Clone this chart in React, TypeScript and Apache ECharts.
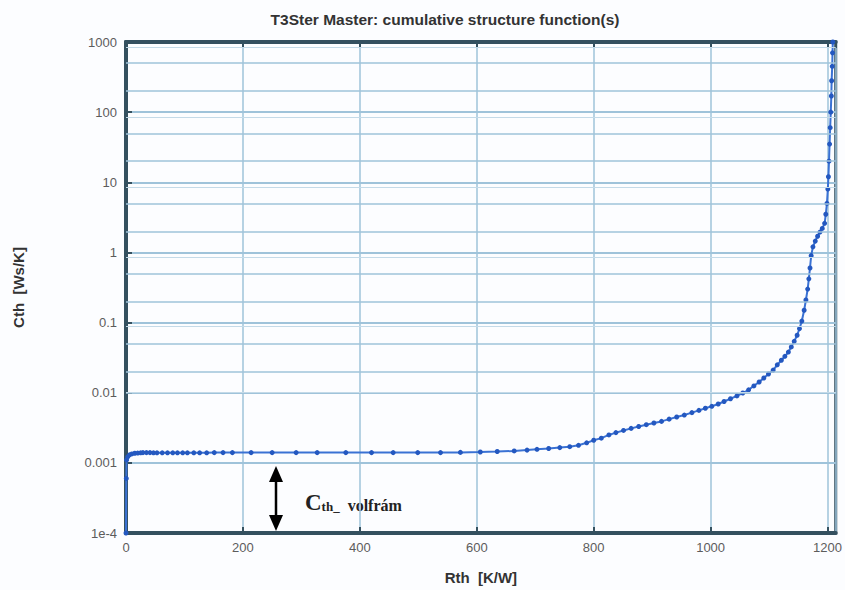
import React, { useEffect, useRef } from "react";
import * as echarts from "echarts";

const titleText = "T3Ster Master: cumulative structure function(s)";
const xAxisName = "Rth  [K/W]";
const yAxisName = "Cth  [Ws/K]";

const rthValues = [
  0, 0.5, 1, 3, 6, 10, 15, 20, 25, 29, 35, 41, 47, 53, 62, 71, 80, 88, 97, 105,
  116, 126, 138, 151, 166, 182, 214, 250, 291, 327, 376, 420, 457, 499, 538,
  572, 606, 635, 664, 686, 703, 723, 742, 759, 774, 788, 800, 813, 826, 838,
  851, 864, 877, 890, 903, 916, 929, 942, 955, 968, 980, 991, 1002, 1013, 1023,
  1034, 1045, 1055, 1065, 1074, 1083, 1091, 1099, 1107, 1114, 1121, 1127, 1133,
  1138, 1143, 1148, 1152, 1156, 1160, 1163, 1166, 1168, 1170, 1172, 1175, 1179,
  1183, 1187, 1191, 1195, 1197, 1199, 1200.5, 1201.5, 1202.5, 1203.5, 1204.5,
  1205.5, 1206.5, 1207, 1208, 1208.5, 1209,
];
const cthValues = [
  0.0001, 0.0006, 0.0011, 0.00122, 0.0013, 0.00134, 0.00137, 0.00138, 0.00139,
  0.0014, 0.0014, 0.0014, 0.00139, 0.00139, 0.00139, 0.00139, 0.00139, 0.00139,
  0.00139, 0.00139, 0.00139, 0.00139, 0.00139, 0.0014, 0.0014, 0.0014, 0.0014,
  0.0014, 0.0014, 0.0014, 0.0014, 0.0014, 0.0014, 0.0014, 0.0014, 0.00141,
  0.00143, 0.00145, 0.00148, 0.00152, 0.00156, 0.0016, 0.00165, 0.0017,
  0.00178, 0.00193, 0.0021, 0.00225, 0.0025, 0.0027, 0.0029, 0.0031, 0.0033,
  0.0035, 0.0037, 0.0039, 0.0042, 0.0045, 0.0048, 0.0052, 0.0056, 0.006,
  0.0064, 0.0069, 0.0075, 0.0082, 0.009, 0.0099, 0.011, 0.0125, 0.0142,
  0.0162, 0.0185, 0.021, 0.025, 0.029, 0.033, 0.038, 0.045, 0.054, 0.066,
  0.082, 0.105, 0.15, 0.21, 0.3, 0.42, 0.6, 0.9, 1.2, 1.45, 1.7, 1.95, 2.2,
  2.6, 3.5, 5, 8, 12, 20, 35, 60, 100, 170, 280, 450, 700, 1000,
];

const yTickLabels = ["1e-4", "0.001", "0.01", "0.1", "1", "10", "100", "1000"];
const yMinorLines = [
  0.0002, 0.0005, 0.002, 0.005, 0.02, 0.05, 0.2, 0.5, 2, 5, 20, 50, 200, 500,
];
const yShadowLines = [0.00085, 0.0085, 0.085, 0.85, 8.5, 85, 850];

const AXIS = "#34505f";
const GRID = "#9fc3da";
const BG = "#fcfdff";

export default function App() {
  const ref = useRef<HTMLDivElement>(null);
  useEffect(() => {
    document.body.style.margin = "0";
    const chart = echarts.init(ref.current!, null, { renderer: "svg" });
    const data = rthValues.map((x, i) => [x, cthValues[i]]);
    const tickLabel = {
      fontFamily: "Liberation Sans",
      fontSize: 13,
      color: "#5c5c5c",
    };
    chart.setOption({
      animation: false,
      backgroundColor: BG,
      grid: {
        left: 126,
        right: 4,
        top: 42,
        bottom: 57,
        show: true,
        borderColor: AXIS,
        borderWidth: 3,
        backgroundColor: "transparent",
      },
      xAxis: [
        {
          type: "value",
          min: 0,
          max: 1214,
          interval: 200,
          name: xAxisName,
          nameLocation: "middle",
          nameGap: 37,
          nameTextStyle: {
            fontFamily: "Liberation Sans",
            fontWeight: "bold",
            fontSize: 15,
            color: "#333",
          },
          axisLine: { show: true, lineStyle: { color: AXIS, width: 4 } },
          axisTick: { show: true, inside: true, length: 6, lineStyle: { color: AXIS, width: 2 } },
          axisLabel: {
            ...tickLabel,
            showMaxLabel: false,
            margin: 8,
            formatter: (v: number) => String(v),
          },
          splitLine: { show: true, lineStyle: { color: GRID, width: 1.5 } },
        },
        {
          type: "value",
          position: "top",
          min: 0,
          max: 1214,
          interval: 200,
          axisLine: { show: true, lineStyle: { color: AXIS, width: 4 } },
          axisTick: { show: true, inside: true, length: 6, lineStyle: { color: AXIS, width: 2 } },
          axisLabel: { show: false },
          splitLine: { show: false },
        },
      ],
      yAxis: {
        type: "log",
        logBase: 10,
        min: 0.0001,
        max: 1000,
        name: yAxisName,
        nameLocation: "middle",
        nameRotate: 90,
        nameGap: 100,
        nameTextStyle: {
          fontFamily: "Liberation Sans",
          fontWeight: "bold",
          fontSize: 15,
          color: "#333",
        },
        axisLine: { show: true, lineStyle: { color: AXIS, width: 4 } },
        axisTick: { show: true, inside: true, length: 6, lineStyle: { color: AXIS, width: 2 } },
        axisLabel: {
          ...tickLabel,
          margin: 9,
          formatter: (v: number) => {
            const idx = Math.round(Math.log10(v)) + 4;
            return yTickLabels[idx] ?? "";
          },
        },
        splitLine: { show: true, lineStyle: { color: GRID, width: 2 } },
      },
      series: [
        {
          type: "line",
          data: [],
          z: 1,
          silent: true,
          markLine: {
            silent: true,
            symbol: "none",
            label: { show: false },
            lineStyle: { type: "solid", color: GRID, width: 1.5 },
            data: yMinorLines.map((v) => ({ yAxis: v })),
          },
        },
        {
          type: "line",
          data: [],
          z: 1,
          silent: true,
          markLine: {
            silent: true,
            symbol: "none",
            label: { show: false },
            lineStyle: { type: "solid", color: "#c4dae8", width: 1.2 },
            data: yShadowLines.map((v) => ({ yAxis: v })),
          },
        },
        {
          type: "line",
          data,
          z: 3,
          symbol: "circle",
          symbolSize: 5,
          showSymbol: true,
          showAllSymbol: true,
          clip: true,
          lineStyle: { color: "#3a72d4", width: 2 },
          itemStyle: { color: "#2458c0" },
        },
      ],
      graphic: [
        {
          type: "text",
          x: 445,
          y: 19,
          style: {
            text: titleText,
            align: "center",
            verticalAlign: "middle",
            fontFamily: "Liberation Sans",
            fontWeight: "bold",
            fontSize: 15.5,
            fill: "#333",
          },
        },
        {
          type: "line",
          shape: { x1: 276, y1: 478, x2: 276, y2: 518 },
          style: { stroke: "#000", lineWidth: 2.5 },
        },
        {
          type: "polygon",
          shape: { points: [[276, 466], [269, 482], [283, 482]] },
          style: { fill: "#000" },
        },
        {
          type: "polygon",
          shape: { points: [[276, 531], [269, 515], [283, 515]] },
          style: { fill: "#000" },
        },
        {
          type: "text",
          x: 303,
          y: 502,
          style: {
            text: "{c|C}{s|th_}{v|  volfrám}",
            verticalAlign: "middle",
            backgroundColor: BG,
            padding: [0, 4, 0, 2],
            rich: {
              c: { fontFamily: "Liberation Serif", fontSize: 23, fill: "#222", fontWeight: "bold" },
              s: {
                fontFamily: "Liberation Serif",
                fontSize: 13,
                fill: "#222",
                fontWeight: "bold",
                padding: [9, 0, 0, 0],
              },
              v: {
                fontFamily: "Liberation Serif",
                fontSize: 16,
                fill: "#222",
                fontWeight: "bold",
                padding: [7, 0, 0, 0],
              },
            },
          },
        },
      ],
    });
    return () => chart.dispose();
  }, []);
  return (
    <div
      ref={ref}
      style={{ position: "fixed", left: 0, top: 0, width: 845, height: 590 }}
    />
  );
}
